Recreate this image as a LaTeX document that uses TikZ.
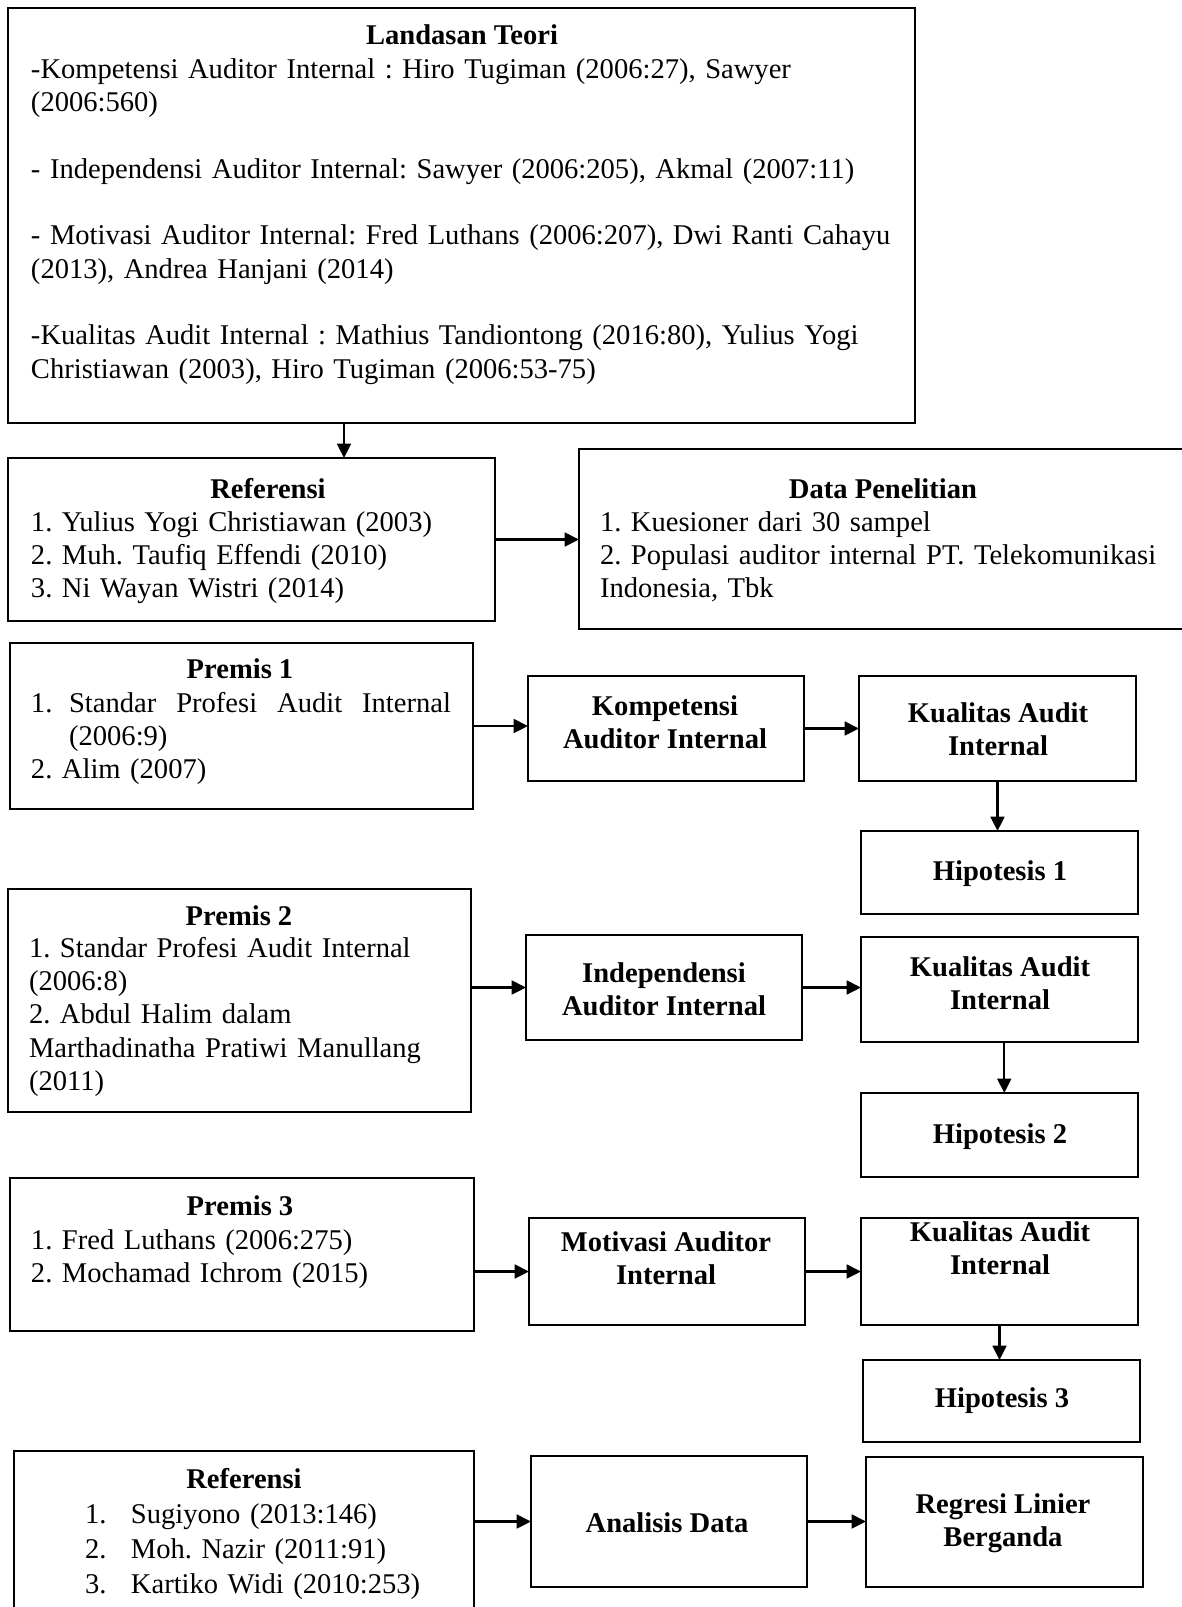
\documentclass[tikz,border=0pt]{standalone}
\usepackage{fontspec}
\setmainfont{Liberation Serif}
\usetikzlibrary{arrows.meta}
\frenchspacing
\newcommand\boxat[5]{\node[boxs, minimum width={(#4-#2)*0.42pt}, minimum height={(#5-#3)*0.42pt}] (#1) at ({(#2+#4)/2},{(#3+#5)/2}) {};}
\begin{document}
\begin{tikzpicture}[x=0.42pt,y=-0.42pt,
  boxs/.style={draw,line width=1.1pt,inner sep=0pt,outer sep=0pt},
  txt/.style={inner sep=0pt,outer sep=0pt,font=\fontsize{12}{14}\selectfont\frenchspacing,align=left,anchor=base west},
  ttl/.style={inner sep=0pt,outer sep=0pt,font=\fontsize{12}{14}\selectfont\bfseries,anchor=base},
  lbl/.style={inner sep=0pt,outer sep=0pt,font=\fontsize{12}{14}\selectfont\bfseries,align=center,anchor=center},
  arr/.style={line width=0.9pt,-{Triangle[length=6pt,width=5.8pt]}}]
\clip (0,0) rectangle (1182,1607);
% boxes
\boxat{land}{8}{8}{915}{423}
\boxat{ref1}{8}{458}{495}{621}
\boxat{data}{579}{449}{1195}{629}
\boxat{prem1}{10}{643}{473}{809}
\boxat{komp}{528}{676}{804}{781}
\boxat{kual1}{859}{676}{1136}{781}
\boxat{hip1}{861}{831}{1138}{914}
\boxat{prem2}{8}{889}{471}{1112}
\boxat{indep}{526}{935}{802}{1040}
\boxat{kual2}{861}{937}{1138}{1042}
\boxat{hip2}{861}{1093}{1138}{1177}
\boxat{prem3}{10}{1178}{474}{1331}
\boxat{mot}{529}{1218}{805}{1325}
\boxat{kual3}{861}{1218}{1138}{1325}
\boxat{hip3}{863}{1360}{1140}{1442}
\boxat{ref2}{14}{1451}{474}{1625}
\boxat{ana}{531}{1456}{807}{1587}
\boxat{reg}{866}{1457}{1143}{1587}
% Landasan Teori
\node[ttl] (landT) at (462,44) {Landasan Teori};
\node[txt,text width=370pt] (landB) at (31,78) {-Kompetensi Auditor Internal : Hiro Tugiman (2006:27), Sawyer\\
(2006:560)\\[14pt]
- Independensi Auditor Internal: Sawyer (2006:205), Akmal (2007:11)\\[14pt]
- Motivasi Auditor Internal: Fred Luthans (2006:207), Dwi Ranti Cahayu\\
(2013), Andrea Hanjani (2014)\\[14pt]
-Kualitas Audit Internal : Mathius Tandiontong (2016:80), Yulius Yogi\\
Christiawan (2003), Hiro Tugiman (2006:53-75)};
% Referensi 1
\node[ttl] (ref1T) at (268,498) {Referensi};
\node[txt,text width=200pt] (ref1B) at (31,531) {1. Yulius Yogi Christiawan (2003)\\
2. Muh. Taufiq Effendi (2010)\\
3. Ni Wayan Wistri (2014)};
% Data Penelitian
\node[ttl] (dataT) at (883,498) {Data Penelitian};
\node[txt,text width=250pt] (dataB) at (600,531) {1. Kuesioner dari 30 sampel\\
2. Populasi auditor internal PT. Telekomunikasi\\
Indonesia, Tbk};
% Premis 1
\node[ttl] (prem1T) at (240,678) {Premis 1};
\node[txt,text width=190pt] (prem1B) at (31,712) {\makebox[176.4pt][l]{\makebox[16pt][l]{1.}Standar\hfill Profesi\hfill Audit\hfill Internal}\\
\hspace*{16pt}(2006:9)\\
2. Alim (2007)};
% Premis 2
\node[ttl] (prem2T) at (239,925) {Premis 2};
\node[txt,text width=190pt] (prem2B) at (29,957) {1. Standar Profesi Audit Internal\\
(2006:8)\\
2. Abdul Halim dalam\\
Marthadinatha Pratiwi Manullang\\
(2011)};
% Premis 3
\node[ttl] (prem3T) at (240,1215) {Premis 3};
\node[txt,text width=190pt] (prem3B) at (31,1249) {1. Fred Luthans (2006:275)\\
2. Mochamad Ichrom (2015)};
% Referensi 2
\node[ttl] (ref2T) at (244,1488) {Referensi};
\node[txt,text width=170pt,font=\fontsize{12}{14.9}\selectfont\frenchspacing] (ref2B) at (85,1523) {\makebox[19.3pt][l]{1.}Sugiyono (2013:146)\\
\makebox[19.3pt][l]{2.}Moh. Nazir (2011:91)\\
\makebox[19.3pt][l]{3.}Kartiko Widi (2010:253)};
% bold labels
\node[lbl] (kompT) at (665,722) {Kompetensi\\Auditor Internal};
\node[lbl] (kual1T) at (998,729) {Kualitas Audit\\Internal};
\node[lbl] (hip1T) at (1000,874) {Hipotesis 1};
\node[lbl] (indepT) at (664,989) {Independensi\\Auditor Internal};
\node[lbl] (kual2T) at (1000,983) {Kualitas Audit\\Internal};
\node[lbl] (hip2T) at (1000,1137) {Hipotesis 2};
\node[lbl] (motT) at (666,1258) {Motivasi Auditor\\Internal};
\node[lbl] (kual3T) at (1000,1248) {Kualitas Audit\\Internal};
\node[lbl] (hip3T) at (1002,1401) {Hipotesis 3};
\node[lbl] (anaT) at (667,1523) {Analisis Data};
\node[lbl] (regT) at (1003,1523) {Regresi Linier\\Berganda};
% arrows
\path (land.south west) ++(336,0) coordinate (a1s);
\draw[arr] (a1s) -- (a1s |- ref1.north);
\draw[arr] (ref1.east) -- (ref1.east -| data.west);
\draw[arr] (prem1.east) -- (prem1.east -| komp.west);
\draw[arr] (komp.east) -- (komp.east -| kual1.west);
\draw[arr] (kual1.south) -- (kual1.south |- hip1.north);
\draw[arr] (indep.west -| prem2.east) -- (indep.west);
\draw[arr] (indep.east) -- (indep.east -| kual2.west);
\draw[arr] ([xshift=2pt]kual2.south) coordinate (a8) -- (a8 |- hip2.north);
\draw[arr] (mot.west -| prem3.east) -- (mot.west);
\draw[arr] (mot.east) -- (mot.east -| kual3.west);
\draw[arr] (kual3.south) -- (kual3.south |- hip3.north);
\draw[arr] (ana.west -| ref2.east) -- (ana.west);
\draw[arr] (ana.east) -- (ana.east -| reg.west);
\end{tikzpicture}
\end{document}
